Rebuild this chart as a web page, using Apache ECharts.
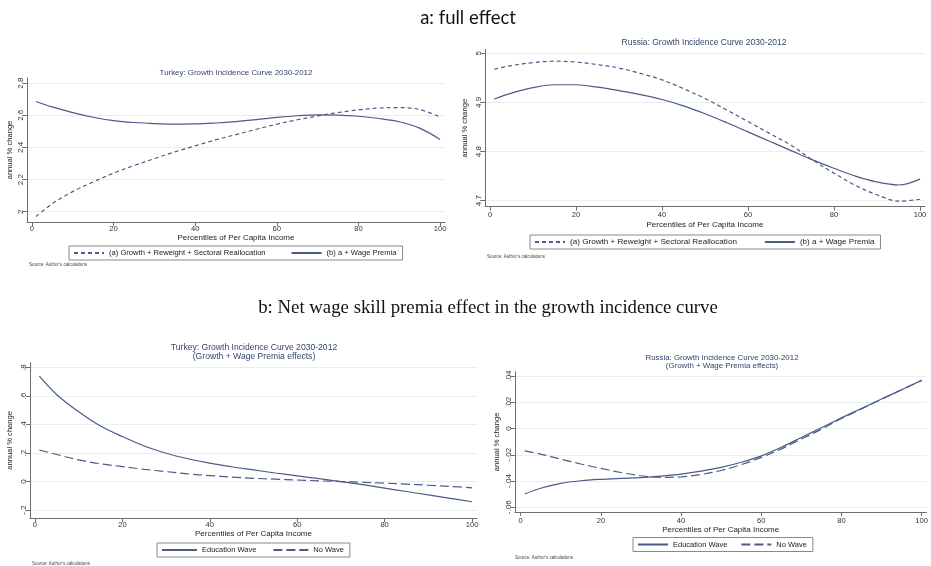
<!DOCTYPE html>
<html>
<head>
<meta charset="utf-8">
<script src="https://cdn.jsdelivr.net/npm/echarts@6/dist/echarts.min.js"></script>
<style>
  html, body { margin: 0; padding: 0; background: #ffffff; }
  #chart { width: 931px; height: 566px; }
</style>
</head>
<body>
<div id="chart"></div>
<script>
// Percentiles of per capita income at which each curve is sampled
const pctl = [1, 5, 10, 15, 20, 25, 30, 35, 40, 45, 50, 55, 60, 65, 70, 75, 80, 85, 90, 95, 100];

// a: full effect, Turkey (annual % change)
const turkeyGrowthReweight = [1.97, 2.05, 2.125, 2.185, 2.24, 2.287, 2.33, 2.372, 2.41, 2.447, 2.48, 2.513, 2.545, 2.572, 2.596, 2.617, 2.634, 2.645, 2.648, 2.636, 2.59];
const turkeyWagePremia     = [2.686, 2.652, 2.617, 2.588, 2.567, 2.555, 2.548, 2.545, 2.546, 2.552, 2.561, 2.573, 2.587, 2.597, 2.602, 2.601, 2.594, 2.58, 2.56, 2.52, 2.45];

// a: full effect, Russia (annual % change)
const russiaGrowthReweight = [4.9675, 4.975, 4.981, 4.984, 4.982, 4.977, 4.970, 4.959, 4.946, 4.928, 4.908, 4.885, 4.861, 4.837, 4.813, 4.783, 4.756, 4.731, 4.712, 4.699, 4.703];
const russiaWagePremia     = [4.907, 4.919, 4.930, 4.936, 4.936, 4.931, 4.924, 4.916, 4.906, 4.893, 4.877, 4.859, 4.840, 4.821, 4.802, 4.783, 4.766, 4.750, 4.738, 4.732, 4.744];

// b: net wage skill premia effect, Turkey
const turkeyEduWave = [0.741, 0.61, 0.49, 0.39, 0.316, 0.25, 0.199, 0.16, 0.129, 0.104, 0.082, 0.06, 0.04, 0.02, 0.0, -0.022, -0.046, -0.07, -0.094, -0.118, -0.142];
const turkeyNoWave  = [0.222, 0.19, 0.152, 0.125, 0.105, 0.086, 0.07, 0.054, 0.042, 0.032, 0.023, 0.017, 0.011, 0.005, 0.0, -0.005, -0.011, -0.018, -0.026, -0.034, -0.044];

// b: net wage skill premia effect, Russia
const russiaEduWave = [-0.0499, -0.0455, -0.0418, -0.0398, -0.0387, -0.038, -0.0374, -0.0362, -0.0347, -0.0325, -0.0296, -0.0257, -0.0208, -0.0143, -0.0068, 0.0006, 0.0081, 0.0153, 0.0225, 0.0296, 0.0367];
const russiaNoWave  = [-0.017, -0.0195, -0.0233, -0.027, -0.0304, -0.0335, -0.036, -0.0372, -0.0368, -0.035, -0.032, -0.0275, -0.022, -0.0155, -0.008, -0.0005, 0.0076, 0.015, 0.0223, 0.0295, 0.0367];

// Tick values and their printed labels
const xTicks = [0, 20, 40, 60, 80, 100];
const turkeyFullTicks = [2, 2.2, 2.4, 2.6, 2.8];
const turkeyFullLabels = ['2', '2.2', '2.4', '2.6', '2.8'];
const russiaFullTicks = [4.7, 4.8, 4.9, 5];
const russiaFullLabels = ['4.7', '4.8', '4.9', '5'];
const turkeyNetTicks = [-0.2, 0, 0.2, 0.4, 0.6, 0.8];
const turkeyNetLabels = ['-.2', '0', '.2', '.4', '.6', '.8'];
const russiaNetTicks = [-0.06, -0.04, -0.02, 0, 0.02, 0.04];
const russiaNetLabels = ['-.06', '-.04', '-.02', '0', '.02', '.04'];

// Legend names
const nameA = '(a) Growth + Reweight + Sectoral Reallocation';
const nameB = '(b) a + Wage Premia';
const nameEdu = 'Education Wave';
const nameNo = 'No Wave';

const LINE = '#4c5a8a';
const GRID_LINE = '#e6eeee';
const AXIS = '#6e6e6e';
const SANS = '"Liberation Sans", Arial, sans-serif';

// Panel layout (pixels) and axis extents
const panels = [
  { grid: { left: 27, top: 78, width: 418, height: 144 }, xMin: -1.2, xMax: 101.2, yMin: 1.936, yMax: 2.832,
    yTicks: turkeyFullTicks, yLabels: turkeyFullLabels, yNameGap: 13, xLabelMargin: 3, xNameGap: 11 },
  { grid: { left: 485, top: 49.5, width: 440, height: 157.2 }, xMin: -1.16, xMax: 101.16, yMin: 4.6878, yMax: 5.0077,
    yTicks: russiaFullTicks, yLabels: russiaFullLabels, yNameGap: 16, xLabelMargin: 4, xNameGap: 14 },
  { grid: { left: 30, top: 362.7, width: 447, height: 155.3 }, xMin: -1.14, xMax: 101.14, yMin: -0.256, yMax: 0.835,
    yTicks: turkeyNetTicks, yLabels: turkeyNetLabels, yNameGap: 16, xLabelMargin: 3, xNameGap: 12 },
  { grid: { left: 515, top: 371.7, width: 412.5, height: 140.3 }, xMin: -1.42, xMax: 101.2, yMin: -0.0636, yMax: 0.0433,
    yTicks: russiaNetTicks, yLabels: russiaNetLabels, yNameGap: 14, xLabelMargin: 5, xNameGap: 13 }
];

function labelFor(ticks, labels) {
  return function (v) {
    for (let i = 0; i < ticks.length; i++) {
      if (Math.abs(ticks[i] - v) < 1e-9) return labels[i];
    }
    return '';
  };
}

const grids = [], xAxes = [], yAxes = [];
panels.forEach(function (p) {
  grids.push(Object.assign({ containLabel: false }, p.grid));
  xAxes.push({
    type: 'value', gridIndex: grids.length - 1, min: p.xMin, max: p.xMax,
    name: 'Percentiles of Per Capita Income', nameLocation: 'middle', nameGap: p.xNameGap,
    nameTextStyle: { fontFamily: SANS, fontSize: 8, color: '#222' },
    axisLine: { show: true, onZero: false, lineStyle: { color: AXIS, width: 1 } },
    axisTick: { show: true, length: 4, customValues: xTicks, lineStyle: { color: AXIS } },
    axisLabel: { customValues: xTicks, margin: p.xLabelMargin, fontFamily: SANS, fontSize: 7.6, color: '#333',
                 formatter: function (v) { return String(Math.round(v)); } },
    splitLine: { show: false }
  });
  yAxes.push({
    type: 'value', gridIndex: grids.length - 1, min: p.yMin, max: p.yMax,
    name: 'annual % change', nameLocation: 'middle', nameGap: p.yNameGap, nameRotate: 90,
    nameTextStyle: { fontFamily: SANS, fontSize: 7.6, color: '#222' },
    axisLine: { show: true, onZero: false, lineStyle: { color: AXIS, width: 1 } },
    axisTick: { show: true, length: 4, customValues: p.yTicks, lineStyle: { color: AXIS } },
    axisLabel: { customValues: p.yTicks, rotate: 90, margin: 2, fontFamily: SANS, fontSize: 8, color: '#333',
                 formatter: labelFor(p.yTicks, p.yLabels) },
    splitLine: { show: true, lineStyle: { color: GRID_LINE, width: 1 } }
  });
});

function pairs(vals) { return pctl.map(function (x, i) { return [x, vals[i]]; }); }
function curve(name, idx, vals, dash) {
  return {
    type: 'line', name: name, xAxisIndex: idx, yAxisIndex: idx, data: pairs(vals),
    smooth: 0.35, symbol: 'none', silent: true,
    lineStyle: { color: LINE, width: 1.2, type: dash || 'solid' },
    itemStyle: { color: LINE }
  };
}

const shortDash = [4, 3];
const longDash = [9, 4];
const series = [
  curve(nameA, 0, turkeyGrowthReweight, shortDash),
  curve(nameB, 0, turkeyWagePremia),
  curve(nameA, 1, russiaGrowthReweight, shortDash),
  curve(nameB, 1, russiaWagePremia),
  curve(nameEdu, 2, turkeyEduWave),
  curve(nameNo, 2, turkeyNoWave, longDash),
  curve(nameEdu, 3, russiaEduWave),
  curve(nameNo, 3, russiaNoWave, longDash)
];

function legendBox(names, left, top, itemWidth, gap, fontSize) {
  return {
    data: names, left: left, top: top, orient: 'horizontal',
    itemWidth: itemWidth, itemHeight: 8, itemGap: gap, padding: [3, 6, 3, 4],
    borderColor: '#8a8a8a', borderWidth: 1, backgroundColor: '#ffffff',
    selectedMode: false,
    itemStyle: { opacity: 0 },
    textStyle: { fontFamily: SANS, fontSize: fontSize, color: '#222', padding: [0, 0, 0, 0] }
  };
}

const legends = [
  legendBox([nameA, nameB], 69, 246, 30, 25, 7.6),
  legendBox([nameA, nameB], 530, 235, 30, 27, 8.1),
  legendBox([nameEdu, nameNo], 157, 543, 35, 16, 7.5),
  legendBox([nameEdu, nameNo], 633, 537.5, 30, 13, 7.5)
];

function label(text, x, y, size, family, color, lineHeight) {
  return {
    type: 'text', x: x, y: y, silent: true,
    style: { text: text, align: 'center', verticalAlign: 'middle', fontSize: size, fontFamily: family,
             fill: color, lineHeight: lineHeight || size * 1.2 }
  };
}
function note(x, y) {
  return {
    type: 'text', x: x, y: y, silent: true,
    style: { text: "Source: Author's calculations", align: 'left', verticalAlign: 'middle', fontSize: 4.5,
             fontFamily: SANS, fill: '#444' }
  };
}

const TITLE = '#34466e';
const graphics = [
  label('a: full effect', 468, 18, 18.5, 'Lato, "Open Sans", sans-serif', '#111'),
  label('b: Net wage skill premia effect in the growth incidence curve', 488, 308, 18.8, '"Liberation Serif", "DejaVu Serif", serif', '#111'),
  label('Turkey: Growth Incidence Curve 2030-2012', 236, 73, 7.9, SANS, TITLE),
  label('Russia: Growth Incidence Curve 2030-2012', 704, 43, 8.5, SANS, TITLE),
  label('Turkey: Growth Incidence Curve 2030-2012\n(Growth + Wage Premia effects)', 254, 352, 8.6, SANS, TITLE, 9.5),
  label('Russia: Growth Incidence Curve 2030-2012\n(Growth + Wage Premia effects)', 722, 362, 7.9, SANS, TITLE, 8.5),
  note(29, 265),
  note(487, 257),
  note(32, 564),
  note(515, 558)
];

const chart = echarts.init(document.getElementById('chart'), null, { renderer: 'canvas' });
chart.setOption({
  backgroundColor: '#ffffff',
  animation: false,
  grid: grids,
  xAxis: xAxes,
  yAxis: yAxes,
  legend: legends,
  series: series,
  graphic: graphics
});
</script>
</body>
</html>
